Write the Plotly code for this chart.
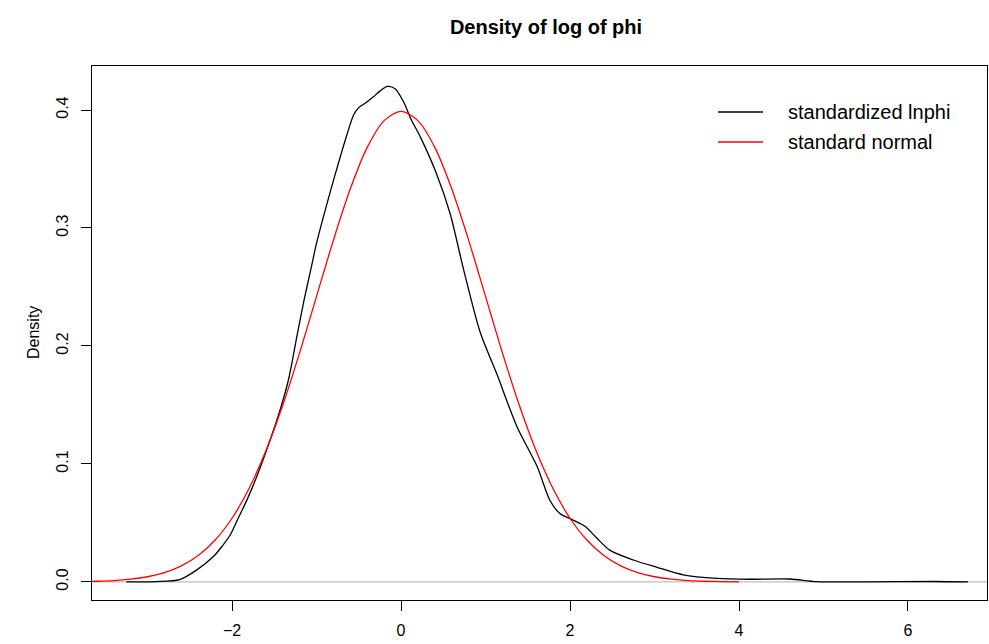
import plotly.graph_objects as go

# Kernel density of standardized ln(phi)
lnphi_x = [-3.25, -2.9, -2.62, -2.42, -2.22, -2.12, -2.02, -1.92, -1.82, -1.72, -1.59, -1.43,
           -1.33, -1.23, -1.15, -1.07, -1.0, -0.84, -0.72, -0.64, -0.56, -0.5, -0.42, -0.33,
           -0.25, -0.16, -0.07, 0.03, 0.12, 0.23, 0.42, 0.58, 0.74, 0.94, 1.13, 1.37, 1.61,
           1.76, 1.88, 2.02, 2.18, 2.32, 2.47, 2.75, 3.03, 3.34, 3.74, 4.13, 4.6, 4.92, 5.5,
           6.3, 6.71]
lnphi_y = [0.0, 0.0003, 0.002, 0.010, 0.0215, 0.030, 0.040, 0.055, 0.070, 0.087, 0.112, 0.146,
           0.172, 0.209, 0.238, 0.264, 0.287, 0.330, 0.360, 0.379, 0.396, 0.402, 0.406, 0.411,
           0.416, 0.420, 0.418, 0.407, 0.392, 0.377, 0.346, 0.3125, 0.265, 0.211, 0.177, 0.132,
           0.098, 0.0695, 0.058, 0.053, 0.047, 0.037, 0.027, 0.0186, 0.0124, 0.006, 0.003,
           0.0023, 0.0025, 0.0003, 0.0001, 0.0004, 0.0]

# Standard normal density
norm_x = [-4.0, -3.8, -3.6, -3.4, -3.2, -3.0, -2.8, -2.6, -2.4, -2.2, -2.0, -1.8, -1.6,
          -1.4, -1.2, -1.0, -0.8, -0.6, -0.4, -0.2, 0.0, 0.2, 0.4, 0.6, 0.8, 1.0, 1.2,
          1.4, 1.6, 1.8, 2.0, 2.2, 2.4, 2.6, 2.8, 3.0, 3.2, 3.4, 3.6, 3.8, 4.0]
norm_y = [0.0001, 0.0003, 0.0006, 0.0012, 0.0024, 0.0044, 0.0079, 0.0136, 0.0224, 0.0355,
          0.0540, 0.0790, 0.1109, 0.1497, 0.1942, 0.2420, 0.2897, 0.3332, 0.3683, 0.3910,
          0.3989, 0.3910, 0.3683, 0.3332, 0.2897, 0.2420, 0.1942, 0.1497, 0.1109, 0.0790,
          0.0540, 0.0355, 0.0224, 0.0136, 0.0079, 0.0044, 0.0024, 0.0012, 0.0006, 0.0003,
          0.0001]

x_ticks = [-2, 0, 2, 4, 6]
y_ticks = [0.0, 0.1, 0.2, 0.3, 0.4]
legend_labels = ["standardized lnphi", "standard normal"]
colors = ["black", "red"]

FONT = "Liberation Sans, Arial, Helvetica, sans-serif"

fig = go.Figure()
fig.add_trace(go.Scatter(x=lnphi_x, y=lnphi_y, mode="lines", name=legend_labels[0],
                         line=dict(color=colors[0], width=1.3, shape="spline", smoothing=0.8)))
fig.add_trace(go.Scatter(x=norm_x, y=norm_y, mode="lines", name=legend_labels[1],
                         line=dict(color=colors[1], width=1.3, shape="spline", smoothing=0.8)))

L, R, T, B = 92, 2, 66, 44
W, H = 989, 644
pw, ph = W - L - R, H - T - B

def px_x(p):
    return (p - L) / pw

def px_y(p):
    return (H - B - p) / ph

shapes = [dict(type="line", xref="paper", yref="y", x0=0, x1=1, y0=0, y1=0,
               line=dict(color="#bebebe", width=1.2), layer="below")]
annotations = []
for i, (lab, col) in enumerate(zip(legend_labels, colors)):
    yy = 112 + 30 * i
    shapes.append(dict(type="line", xref="paper", yref="paper",
                       x0=px_x(718), x1=px_x(763), y0=px_y(yy), y1=px_y(yy),
                       line=dict(color=col, width=1.3)))
    annotations.append(dict(text=lab, xref="paper", yref="paper", x=px_x(786), y=px_y(yy),
                            xanchor="left", yanchor="middle", showarrow=False,
                            font=dict(family=FONT, size=20, color="black")))
annotations.append(dict(text="Density", xref="paper", yref="paper", x=px_x(33), y=0.5,
                        textangle=-90, xanchor="center", yanchor="middle", showarrow=False,
                        font=dict(family=FONT, size=16, color="black")))

fig.update_layout(
    width=W, height=H,
    margin=dict(l=L, r=R, t=T, b=B),
    paper_bgcolor="white", plot_bgcolor="white",
    showlegend=False,
    title=dict(text="<b>Density of log of phi</b>", x=px_x(546), xref="paper", xanchor="center",
               y=1 - 27 / H, yref="container", yanchor="middle",
               font=dict(family=FONT, size=20, color="black")),
    font=dict(family=FONT, size=16, color="black"),
    shapes=shapes, annotations=annotations,
)
fig.update_xaxes(range=[-3.657, 6.935], tickvals=x_ticks, ticks="outside", ticklen=10,
                 tickcolor="black", showline=True, linecolor="black", linewidth=1, mirror=True,
                 showgrid=False, zeroline=False, ticklabelstandoff=6,
                 tickfont=dict(family=FONT, size=16, color="black"))
fig.update_yaxes(range=[-0.0153, 0.4373], tickvals=y_ticks, tickformat=".1f", ticks="outside",
                 ticklen=10, tickcolor="black", showline=True, linecolor="black", linewidth=1,
                 mirror=True, showgrid=False, zeroline=False, tickangle=-90, ticklabelstandoff=7,
                 tickfont=dict(family=FONT, size=16, color="black"))

fig.write_html("out.html", config={"displayModeBar": False},
               post_script="document.body.style.margin='0';document.body.style.overflow='hidden';")
